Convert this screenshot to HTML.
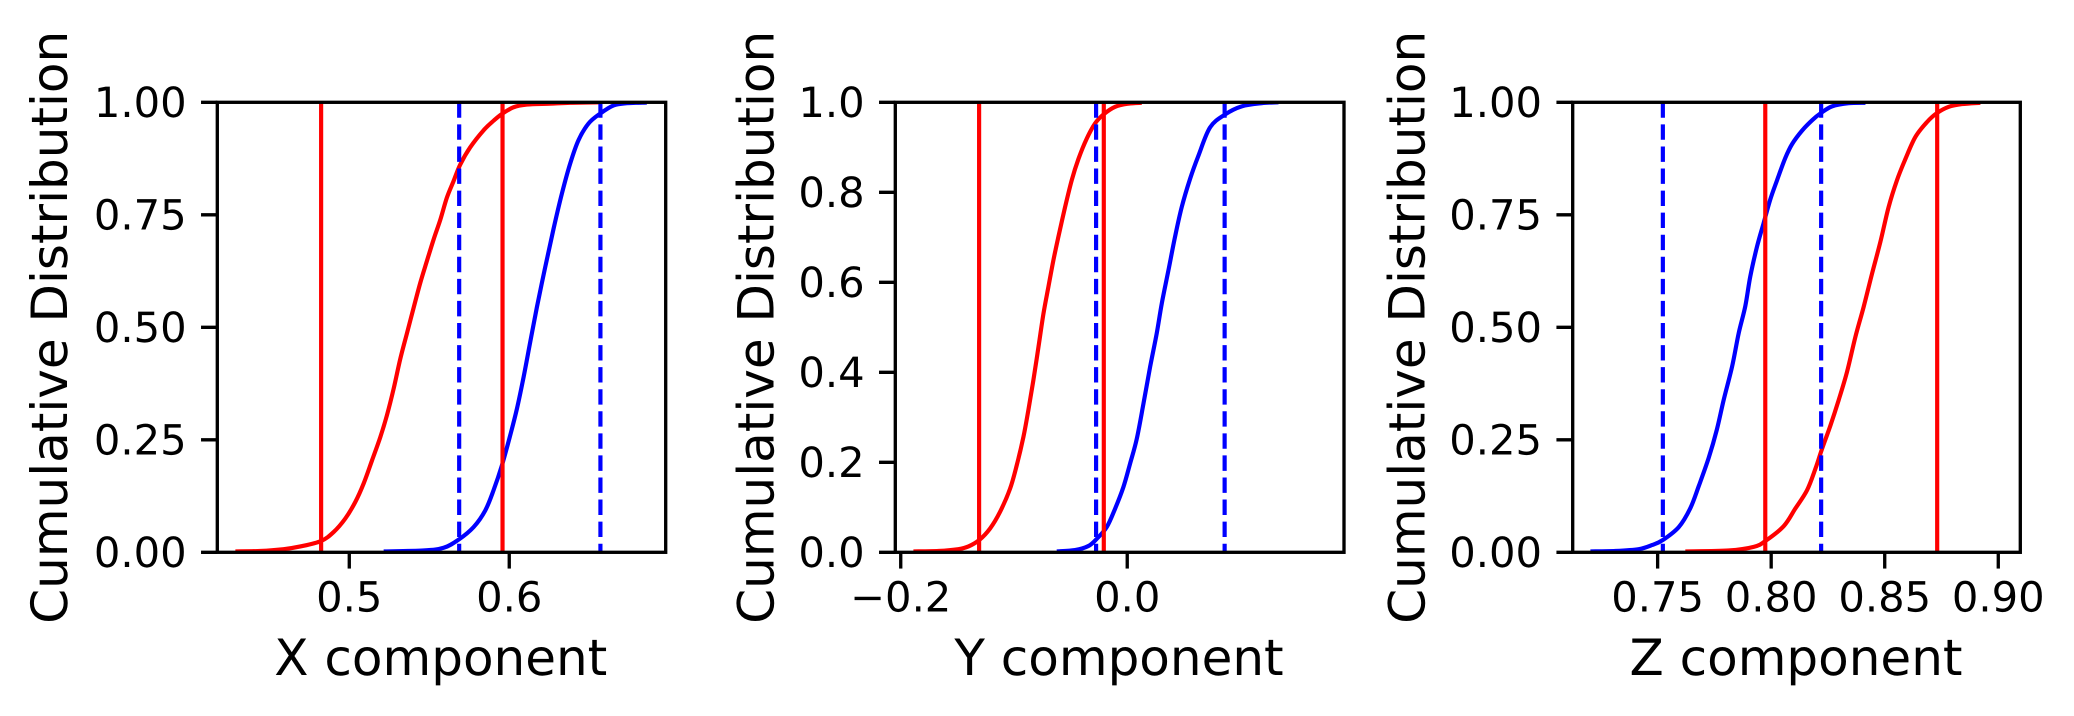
<!DOCTYPE html>
<html lang="en">
<head>
<meta charset="utf-8">
<title>Cumulative distributions of X, Y and Z components</title>
<style>
  html, body { margin: 0; padding: 0; background: #ffffff; }
  body { width: 2074px; height: 716px; overflow: hidden; }
  svg { display: block; }
  text { font-family: "DejaVu Sans", "Liberation Sans", sans-serif; fill: #000000; text-rendering: geometricPrecision; }
  .tick-label { font-size: 41.67px; }
  .axis-title { font-size: 50px; }
</style>
</head>
<body>
<svg id="figure" xmlns="http://www.w3.org/2000/svg" width="2074" height="716" viewBox="0 0 2074 716">
  <rect x="0" y="0" width="2074" height="716" fill="#ffffff"/>
  <text class="axis-title" x="440.8" y="675" text-anchor="middle">X component</text>
  <text class="axis-title" x="1119" y="675" text-anchor="middle">Y component</text>
  <text class="axis-title" x="1796" y="675" text-anchor="middle">Z component</text>
  <text class="axis-title" transform="translate(67 327.3) rotate(-90)" text-anchor="middle">Cumulative Distribution</text>
  <text class="axis-title" transform="translate(773.5 327.3) rotate(-90)" text-anchor="middle">Cumulative Distribution</text>
  <text class="axis-title" transform="translate(1424.3 327.3) rotate(-90)" text-anchor="middle">Cumulative Distribution</text>
</svg>
<script>
// ---- X component panel data ----
const xLimitsX = [0.4175, 0.6978];
const xTicksX = [0.5, 0.6];
const xTickLabelsX = ['0.5', '0.6'];
const yTicksX = [0, 0.25, 0.5, 0.75, 1];
const yTickLabelsX = ['0.00', '0.25', '0.50', '0.75', '1.00'];
const redValuesX = [0.4288, 0.4444, 0.4590, 0.4694, 0.4823, 0.4902, 0.4975, 0.5038, 0.5090, 0.5142, 0.5194, 0.5235, 0.5277, 0.5319, 0.5360, 0.5402, 0.5444, 0.5485, 0.5527, 0.5569, 0.5610, 0.5652, 0.5694, 0.5756, 0.5840, 0.5902, 0.5954, 0.6027, 0.6110, 0.6256, 0.6381, 0.6569];
const redCdfX = [0.002, 0.003, 0.007, 0.013, 0.025, 0.045, 0.075, 0.112, 0.153, 0.204, 0.256, 0.304, 0.363, 0.430, 0.486, 0.543, 0.599, 0.647, 0.695, 0.739, 0.788, 0.825, 0.862, 0.900, 0.938, 0.959, 0.974, 0.989, 0.995, 0.997, 0.999, 1.0];
const blueValuesX = [0.5215, 0.5465, 0.5590, 0.5683, 0.5777, 0.5850, 0.5902, 0.5954, 0.6006, 0.6048, 0.6090, 0.6131, 0.6173, 0.6225, 0.6277, 0.6329, 0.6381, 0.6433, 0.6496, 0.6569, 0.6652, 0.6735, 0.6860];
const blueCdfX = [0.002, 0.004, 0.010, 0.028, 0.056, 0.093, 0.138, 0.193, 0.260, 0.319, 0.390, 0.467, 0.545, 0.634, 0.719, 0.797, 0.864, 0.916, 0.953, 0.975, 0.993, 0.998, 0.9995];
const redBoundsX = [0.4824, 0.5958];
const blueBoundsX = [0.5687, 0.6570];

// ---- Y component panel data ----
const xLimitsY = [-0.2048, 0.1914];
const xTicksY = [-0.2, 0];
const xTickLabelsY = ['\u22120.2', '0.0'];
const yTicksY = [0, 0.2, 0.4, 0.6, 0.8, 1];
const yTickLabelsY = ['0.0', '0.2', '0.4', '0.6', '0.8', '1.0'];
const redValuesY = [-0.1888, -0.1667, -0.1491, -0.1402, -0.1308, -0.1211, -0.1123, -0.1035, -0.0976, -0.0917, -0.0873, -0.0829, -0.0784, -0.0740, -0.0696, -0.0652, -0.0608, -0.0549, -0.0490, -0.0431, -0.0358, -0.0284, -0.0210, -0.0107, 0.0010, 0.0128];
const redCdfY = [0.002, 0.003, 0.007, 0.013, 0.027, 0.053, 0.090, 0.141, 0.193, 0.256, 0.316, 0.382, 0.456, 0.530, 0.590, 0.649, 0.701, 0.767, 0.827, 0.874, 0.919, 0.953, 0.973, 0.990, 0.997, 0.999];
const blueValuesY = [-0.0622, -0.0461, -0.0343, -0.0269, -0.0181, -0.0107, -0.0034, 0.0025, 0.0084, 0.0143, 0.0202, 0.0260, 0.0305, 0.0364, 0.0422, 0.0481, 0.0555, 0.0628, 0.0731, 0.0864, 0.1011, 0.1188, 0.1335];
const blueCdfY = [0.002, 0.005, 0.014, 0.030, 0.056, 0.097, 0.145, 0.197, 0.252, 0.330, 0.412, 0.486, 0.553, 0.627, 0.701, 0.767, 0.830, 0.881, 0.944, 0.973, 0.991, 0.998, 1.0];
const redBoundsY = [-0.1308, -0.0207];
const blueBoundsY = [-0.0275, 0.0860];

// ---- Z component panel data ----
const xLimitsZ = [0.7126, 0.9097];
const xTicksZ = [0.75, 0.8, 0.85, 0.9];
const xTickLabelsZ = ['0.75', '0.80', '0.85', '0.90'];
const yTicksZ = [0, 0.25, 0.5, 0.75, 1];
const yTickLabelsZ = ['0.00', '0.25', '0.50', '0.75', '1.00'];
const redValuesZ = [0.7622, 0.7813, 0.7923, 0.7974, 0.8055, 0.8106, 0.8158, 0.8195, 0.8224, 0.8261, 0.8297, 0.8334, 0.8371, 0.8407, 0.8444, 0.8481, 0.8517, 0.8554, 0.8591, 0.8635, 0.8686, 0.8730, 0.8782, 0.8840, 0.8921];
const redCdfZ = [0.002, 0.004, 0.012, 0.025, 0.058, 0.097, 0.138, 0.186, 0.230, 0.282, 0.338, 0.401, 0.479, 0.545, 0.619, 0.690, 0.767, 0.827, 0.874, 0.923, 0.956, 0.976, 0.990, 0.996, 0.999];
const blueValuesZ = [0.7204, 0.7314, 0.7417, 0.7475, 0.7522, 0.7593, 0.7644, 0.7681, 0.7725, 0.7761, 0.7791, 0.7828, 0.7857, 0.7886, 0.7908, 0.7938, 0.7967, 0.7996, 0.8026, 0.8062, 0.8092, 0.8136, 0.8180, 0.8219, 0.8268, 0.8341, 0.8415];
const blueCdfZ = [0.002, 0.003, 0.007, 0.016, 0.027, 0.056, 0.098, 0.147, 0.210, 0.273, 0.339, 0.413, 0.487, 0.547, 0.613, 0.680, 0.732, 0.784, 0.827, 0.876, 0.907, 0.937, 0.960, 0.976, 0.991, 0.998, 0.999];
const redBoundsZ = [0.7974, 0.8731];
const blueBoundsZ = [0.7523, 0.8220];

const yLimits = [0, 1];

const SVG_NS = 'http://www.w3.org/2000/svg';
const figure = document.getElementById('figure');
const LW = 4.17, SPINE = 3.33, TICK = 14.6, PAD = 14.6;
const TOP = 102.3, BOTTOM = 552.3;

function make(tag, parent) {
  const el = document.createElementNS(SVG_NS, tag);
  parent.appendChild(el);
  return el;
}

function smoothPath(pts) {
  let d = 'M' + pts[0][0].toFixed(2) + ' ' + pts[0][1].toFixed(2);
  for (let i = 0; i < pts.length - 1; i++) {
    const p0 = pts[Math.max(i - 1, 0)];
    const p1 = pts[i];
    const p2 = pts[i + 1];
    const p3 = pts[Math.min(i + 2, pts.length - 1)];
    const c1x = p1[0] + (p2[0] - p0[0]) / 6;
    const c1y = p1[1] + (p2[1] - p0[1]) / 6;
    const c2x = p2[0] - (p3[0] - p1[0]) / 6;
    const c2y = p2[1] - (p3[1] - p1[1]) / 6;
    d += 'C' + c1x.toFixed(2) + ' ' + c1y.toFixed(2) + ' ' + c2x.toFixed(2) + ' ' + c2y.toFixed(2) + ' ' + p2[0].toFixed(2) + ' ' + p2[1].toFixed(2);
  }
  return d;
}

function drawPanel(key, left, right, limits, xTicks, xLabels, yTicks, yLabels, redX, redY, blueX, blueY, redBounds, blueBounds) {
  const sx = v => left + (v - limits[0]) / (limits[1] - limits[0]) * (right - left);
  const sy = v => BOTTOM - (v - yLimits[0]) / (yLimits[1] - yLimits[0]) * (BOTTOM - TOP);

  const g = make('g', figure);
  
  

  const clip = make('clipPath', g);
  clip.setAttribute('id', 'clip-' + key);
  const clipRect = make('rect', clip);
  clipRect.setAttribute('x', left);
  clipRect.setAttribute('y', TOP);
  clipRect.setAttribute('width', right - left);
  clipRect.setAttribute('height', BOTTOM - TOP);

  const marks = make('g', g);
  marks.setAttribute('clip-path', 'url(#clip-' + key + ')');
  
  

  const redCurve = make('path', marks);
  
  
  redCurve.setAttribute('d', smoothPath(redX.map((v, i) => [sx(v), sy(redY[i])])));
  redCurve.setAttribute('fill', 'none');
  redCurve.setAttribute('stroke', '#ff0000');
  redCurve.setAttribute('stroke-width', LW);

  const blueCurve = make('path', marks);
  
  
  blueCurve.setAttribute('d', smoothPath(blueX.map((v, i) => [sx(v), sy(blueY[i])])));
  blueCurve.setAttribute('fill', 'none');
  blueCurve.setAttribute('stroke', '#0000ff');
  blueCurve.setAttribute('stroke-width', LW);

  redBounds.forEach((v, i) => {
    const line = make('line', marks);
    
    
    line.setAttribute('x1', sx(v));
    line.setAttribute('x2', sx(v));
    line.setAttribute('y1', sy(yLimits[0]));
    line.setAttribute('y2', sy(yLimits[1]));
    line.setAttribute('stroke', '#ff0000');
    line.setAttribute('stroke-width', LW);
  });

  blueBounds.forEach((v, i) => {
    const line = make('line', marks);
    
    
    line.setAttribute('x1', sx(v));
    line.setAttribute('x2', sx(v));
    line.setAttribute('y1', sy(yLimits[1]));
    line.setAttribute('y2', sy(yLimits[0]));
    line.setAttribute('stroke', '#0000ff');
    line.setAttribute('stroke-width', LW);
    line.setAttribute('stroke-dasharray', '15.4 6.67');
  });

  xTicks.forEach((v, i) => {
    const tick = make('line', g);
    
    
    tick.setAttribute('x1', sx(v));
    tick.setAttribute('x2', sx(v));
    tick.setAttribute('y1', BOTTOM);
    tick.setAttribute('y2', BOTTOM + TICK + SPINE / 2);
    tick.setAttribute('stroke', '#000000');
    tick.setAttribute('stroke-width', SPINE);
    const label = make('text', g);
    
    
    label.setAttribute('class', 'tick-label');
    label.setAttribute('x', sx(v));
    label.setAttribute('y', 611.7);
    label.setAttribute('text-anchor', 'middle');
    label.textContent = xLabels[i];
  });

  yTicks.forEach((v, i) => {
    const tick = make('line', g);
    
    
    tick.setAttribute('x1', left - TICK - SPINE / 2);
    tick.setAttribute('x2', left);
    tick.setAttribute('y1', sy(v));
    tick.setAttribute('y2', sy(v));
    tick.setAttribute('stroke', '#000000');
    tick.setAttribute('stroke-width', SPINE);
    const label = make('text', g);
    
    
    label.setAttribute('class', 'tick-label');
    label.setAttribute('x', left - TICK - PAD - 1.5);
    label.setAttribute('y', sy(v) + 14.8);
    label.setAttribute('text-anchor', 'end');
    label.textContent = yLabels[i];
  });

  const frame = make('rect', g);
  
  
  frame.setAttribute('x', left);
  frame.setAttribute('y', TOP);
  frame.setAttribute('width', right - left);
  frame.setAttribute('height', BOTTOM - TOP);
  frame.setAttribute('fill', 'none');
  frame.setAttribute('stroke', '#000000');
  frame.setAttribute('stroke-width', SPINE);
}

drawPanel('x', 217.3, 665.7, xLimitsX, xTicksX, xTickLabelsX, yTicksX, yTickLabelsX, redValuesX, redCdfX, blueValuesX, blueCdfX, redBoundsX, blueBoundsX);
drawPanel('y', 895.3, 1344, xLimitsY, xTicksY, xTickLabelsY, yTicksY, yTickLabelsY, redValuesY, redCdfY, blueValuesY, blueCdfY, redBoundsY, blueBoundsY);
drawPanel('z', 1572.7, 2020.3, xLimitsZ, xTicksZ, xTickLabelsZ, yTicksZ, yTickLabelsZ, redValuesZ, redCdfZ, blueValuesZ, blueCdfZ, redBoundsZ, blueBoundsZ);
</script>
</body>
</html>
